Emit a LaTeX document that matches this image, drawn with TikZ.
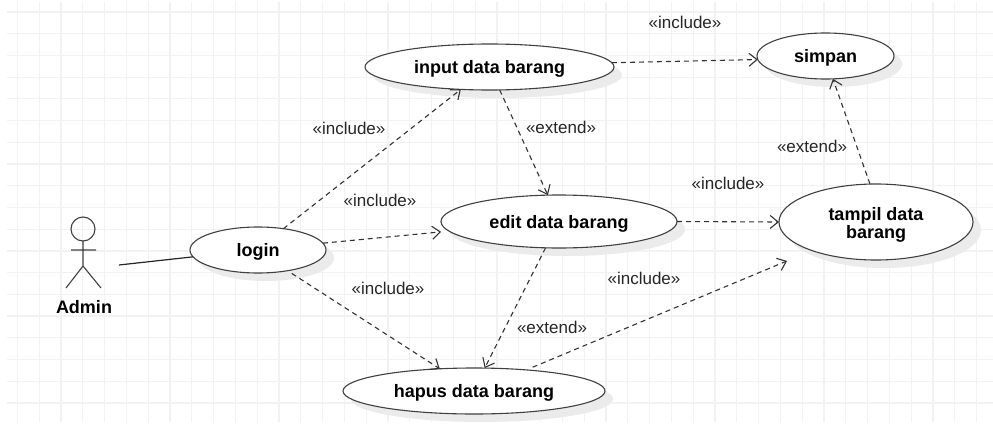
\documentclass[tikz,border=0pt]{standalone}
\usepackage{fontspec}
\setmainfont{Liberation Sans}
\usetikzlibrary{arrows.meta,shapes.geometric,shadows}
\tikzset{
  usecase/.style={draw=black!75,line width=1.1pt,fill=white,ellipse,inner sep=0pt,outer sep=0pt,
    font=\fontsize{18}{18}\selectfont\bfseries,align=center,
    drop shadow={shadow xshift=8pt,shadow yshift=-8pt,fill=black!8,opacity=1}},
  oneline/.style={text height=13pt,text depth=0pt},
  stereo/.style={font=\fontsize{17}{17}\selectfont,text=black!85,inner sep=0pt},
  dep/.style={->,>={Straight Barb[length=8pt,width=13pt]},dash pattern=on 5pt off 4pt,line width=1.1pt,black!80},
  gridline/.style={black!5,line width=1.2pt}
}
\begin{document}
\begin{tikzpicture}[x=1pt,y=-1pt]
  \useasboundingbox (0,0) rectangle (993,423);
  \fill[white] (0,0) rectangle (993,423);
  \foreach \gx in {0,...,44}
    \draw[gridline] ({17.3+21.8*\gx},2)--({17.3+21.8*\gx},422);
  \foreach \gy in {0,...,18}
    \draw[gridline] (7,{12+21.72*\gy})--(993,{12+21.72*\gy});
  \node[usecase,oneline,minimum width=136pt,minimum height=46pt] (login) at (258,250) {login};
  \node[usecase,oneline,minimum width=249pt,minimum height=46pt] (input) at (489.5,67) {input data barang};
  \node[usecase,oneline,minimum width=236pt,minimum height=53pt] (edit) at (559,221.5) {edit data barang};
  \node[usecase,oneline,minimum width=262pt,minimum height=46pt] (hapus) at (474,391) {hapus data barang};
  \node[usecase,oneline,minimum width=137pt,minimum height=46pt] (simpan) at (825.5,56) {simpan};
  \node[usecase,minimum width=194pt,minimum height=76pt] (tampil) at (876,222) {\rule{0pt}{19pt}tampil data\\barang};
  \node[circle,draw=black!75,line width=1.1pt,minimum size=24pt,inner sep=0pt,outer sep=0pt] (head) at (83,229) {};
  \node[font=\fontsize{18}{18}\selectfont\bfseries,inner sep=0pt] (admin) at (84,307) {Admin};
  \coordinate (hip) at (83,266);
  \coordinate (hand) at (119,265);
  \draw[black!75,line width=1.1pt] (head.south)--(hip) (71,250)--(96,250) (66,288)--(hip)--(101,288);
  \draw[black!85,line width=1.2pt] (hand)--(login.-174);
  \draw[dep] (login.40)--(input.-142);
  \draw[dep,shorten >=8pt] (login.6)--(edit.-175);
  \draw[dep,shorten <=5pt] (login.-35)--(hapus.147);
  \draw[dep] (input.2)--(simpan.-177.5);
  \draw[dep] (input.-66)--(edit.113);
  \draw[dep] (edit.-117)--(hapus.65);
  \draw[dep] (edit.east)--(tampil.west);
  \draw[dep,shorten <=7pt,shorten >=27pt] (hapus.22)--(tampil.-156);
  \draw[dep] (tampil.99)--(simpan.-72);
  \node[stereo] (inclsimpan) at (685,22) {«include»};
  \node[stereo] (inclinput) at (349,128) {«include»};
  \node[stereo] (incledit) at (380,200) {«include»};
  \node[stereo] (inclhapus) at (388,288) {«include»};
  \node[stereo] (incltampil) at (728,183) {«include»};
  \node[stereo] (inclbawah) at (644,278) {«include»};
  \node[stereo] (extedit) at (561,127) {«extend»};
  \node[stereo] (exthapus) at (552,327) {«extend»};
  \node[stereo] (extsimpan) at (812,146) {«extend»};
\end{tikzpicture}
\end{document}
